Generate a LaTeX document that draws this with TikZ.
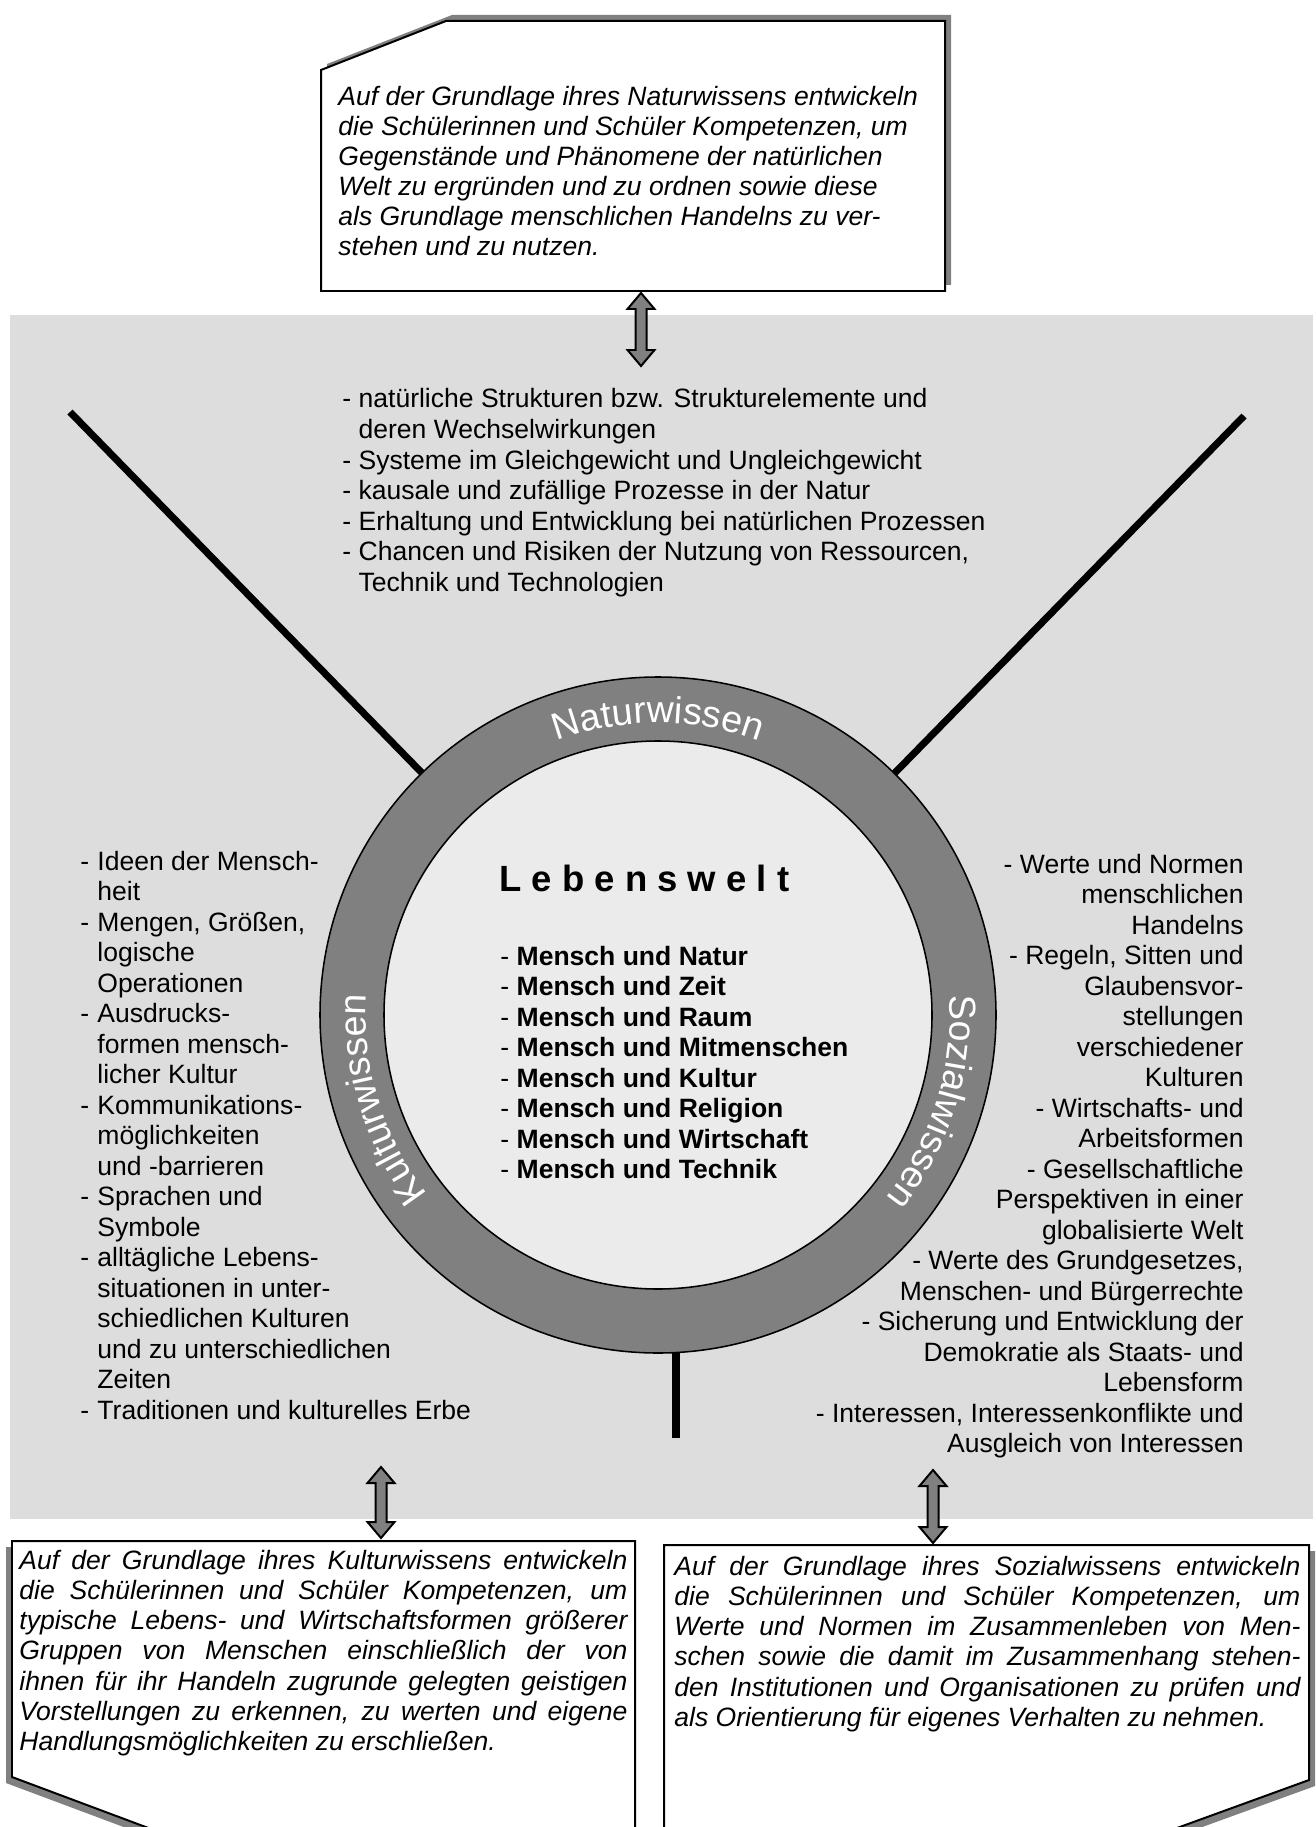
\documentclass[tikz,border=0pt]{standalone}
\usepackage{fontspec}
\setmainfont{Liberation Sans}
\usetikzlibrary{calc,decorations.text}
\definecolor{bggray}{HTML}{DDDDDD}
\definecolor{midgray}{HTML}{808080}
\definecolor{innergray}{HTML}{EBEBEB}
\newdimen\pxu \pxu=0.45231pt
\newcommand\jl[1]{\makebox[\linewidth][s]{#1}\\}
\newcommand\ind{\hspace*{17\pxu}}
\newcommand\itm{\makebox[17\pxu][l]{-}}
\newcommand\ringfont{\fontsize{17}{20}\selectfont}
\newcommand\blockarrow[2]{%
  \filldraw[arrowstyle] (#1) -- ($(#1)+(13.5,-16)$) -- ($(#1)+(5.5,-16)$) -- ($(#2)+(5.5,16)$) -- ($(#2)+(13.5,16)$) -- (#2) -- ($(#2)+(-13.5,16)$) -- ($(#2)+(-5.5,16)$) -- ($(#1)+(-5.5,-16)$) -- ($(#1)+(-13.5,-16)$) -- cycle;}
\begin{document}
\begin{tikzpicture}[x=0.45231pt,y=0.45231pt,
  spoke/.style={line width=3.2pt},
  boxline/.style={draw=black,line width=0.9pt,fill=white},
  arrowstyle/.style={fill=midgray,draw=black,line width=0.9pt,line join=miter},
  txt/.style={inner sep=0pt,anchor=base west},
  ringtext/.style={decorate,decoration={text along path,text align=center,text color=white,text={|\ringfont|#1}}}
]
\useasboundingbox (0,0) rectangle (1316,-1827);
\clip (0,0) rectangle (1316,-1827);
\fill[white] (0,0) rectangle (1316,-1827);
\fill[bggray] (10,-315) rectangle (1313,-1519);

% top box
\fill[midgray,shift={(6,6)}] (321,-70) -- (446,-21) -- (945,-21) -- (945,-291) -- (321,-291) -- cycle;
\draw[boxline] (321,-70) -- (446,-21) -- (945,-21) -- (945,-291) -- (321,-291) -- cycle;
% bottom-left box
\fill[midgray,shift={(-6,-6)}] (12,-1541) -- (635,-1541) -- (635,-1860) -- (234,-1860) -- (12,-1777) -- cycle;
\draw[boxline] (12,-1541) -- (635,-1541) -- (635,-1860) -- (234,-1860) -- (12,-1777) -- cycle;
% bottom-right box
\fill[midgray,shift={(6,-6)}] (664,-1545) -- (1309,-1545) -- (1309,-1780) -- (1089,-1860) -- (664,-1860) -- cycle;
\draw[boxline] (664,-1545) -- (1309,-1545) -- (1309,-1780) -- (1089,-1860) -- (664,-1860) -- cycle;

% spokes
\coordinate (c) at (658,-1015);
\coordinate (tl) at (70,-412);
\coordinate (tr) at (1244,-416);
\coordinate (bm) at (676,-1438);
\coordinate (bmi) at (676,-1300);
\draw[spoke] (tl) -- (c);
\draw[spoke] (tr) -- (c);
\draw[spoke] (bm) -- (bmi);

% ring
\node[circle,fill=midgray,draw=black,line width=0.7pt,minimum size=676\pxu,inner sep=0pt] (outer) at (c) {};
\node[circle,fill=innergray,draw=black,line width=0.7pt,minimum size=548\pxu,inner sep=0pt] (inner) at (c) {};
\path[ringtext=Naturwissen] ($(c)+(130:292)$) arc[start angle=130,end angle=50,radius=292];
\path[ringtext=Kulturwissen] ($(c)+(242:292)$) arc[start angle=242,end angle=152,radius=292];
\path[ringtext=Sozialwissen] ($(c)+(27.5:292)$) arc[start angle=27.5,end angle=-62.5,radius=292];

% centre
\node[txt] (lw) at (499,-891) {\fontsize{16.5}{20}\selectfont\bfseries L e b e n s w e l t};
\node[txt] (ml) at (500,-965) {\parbox[t]{420\pxu}{\fontsize{12}{13.8}\selectfont\raggedright
- \textbf{Mensch und Natur}\\
- \textbf{Mensch und Zeit}\\
- \textbf{Mensch und Raum}\\
- \textbf{Mensch und Mitmenschen}\\
- \textbf{Mensch und Kultur}\\
- \textbf{Mensch und Religion}\\
- \textbf{Mensch und Wirtschaft}\\
- \textbf{Mensch und Technik}}};

% top list
\node[txt] (nl) at (342,-408) {\parbox[t]{720\pxu}{\fontsize{12}{13.8}\selectfont\raggedright
- natürliche Strukturen bzw. Strukturelemente und\\
\hphantom{- }deren Wechselwirkungen\\
- Systeme im Gleichgewicht und Ungleichgewicht\\
- kausale und zufällige Prozesse in der Natur\\
- Erhaltung und Entwicklung bei natürlichen Prozessen\\
- Chancen und Risiken der Nutzung von Ressourcen,\\
\hphantom{- }Technik und Technologien}};

% left list
\node[txt] (kl) at (80,-870) {\parbox[t]{440\pxu}{\fontsize{12}{13.8}\selectfont\raggedright
\itm Ideen der Mensch-\\
\ind heit\\
\itm Mengen, Größen,\\
\ind logische\\
\ind Operationen\\
\itm Ausdrucks-\\
\ind formen mensch-\\
\ind licher Kultur\\
\itm Kommunikations-\\
\ind möglichkeiten\\
\ind und -barrieren\\
\itm Sprachen und\\
\ind Symbole\\
\itm alltägliche Lebens-\\
\ind situationen in unter-\\
\ind schiedlichen Kulturen\\
\ind und zu unterschiedlichen\\
\ind Zeiten\\
\itm Traditionen und kulturelles Erbe}};

% right list
\node[inner sep=0pt,anchor=base east] (sl) at (1244,-873) {\parbox[t]{480\pxu}{\fontsize{12}{13.8}\selectfont\raggedleft
- Werte und Normen\\
menschlichen\\
Handelns\\
- Regeln, Sitten und\\
Glaubensvor-\\
stellungen\\
verschiedener\\
Kulturen\\
- Wirtschafts- und\\
Arbeitsformen\\
- Gesellschaftliche\\
Perspektiven in einer\\
globalisierte Welt\\
- Werte des Grundgesetzes,\\
Menschen- und Bürgerrechte\\
- Sicherung und Entwicklung der\\
Demokratie als Staats- und\\
Lebensform\\
- Interessen, Interessenkonflikte und\\
Ausgleich von Interessen}};

% box texts
\node[txt] (nt) at (338,-106) {\parbox[t]{600\pxu}{\fontsize{12}{13.5}\selectfont\itshape\raggedright
Auf der Grundlage ihres Naturwissens entwickeln\\
die Schülerinnen und Schüler Kompetenzen, um\\
Gegenstände und Phänomene der natürlichen\\
Welt zu ergründen und zu ordnen sowie diese\\
als Grundlage menschlichen Handelns zu ver-\\
stehen und zu nutzen.}};

\node[txt] (kt) at (19,-1569) {\parbox[t]{608\pxu}{\fontsize{12}{13.7}\selectfont\itshape
\jl{Auf der Grundlage ihres Kulturwissens entwickeln}
\jl{die Schülerinnen und Schüler Kompetenzen, um}
\jl{typische Lebens- und Wirtschaftsformen größerer}
\jl{Gruppen von Menschen einschließlich der von}
\jl{ihnen für ihr Handeln zugrunde gelegten geistigen}
\jl{Vorstellungen zu erkennen, zu werten und eigene}
Handlungsmöglichkeiten zu erschließen.}};

\node[txt] (st) at (674,-1575) {\parbox[t]{626\pxu}{\fontsize{12}{13.7}\selectfont\itshape
\jl{Auf der Grundlage ihres Sozialwissens entwickeln}
\jl{die Schülerinnen und Schüler Kompetenzen, um}
\jl{Werte und Normen im Zusammenleben von Men-}
\jl{schen sowie die damit im Zusammenhang stehen-}
\jl{den Institutionen und Organisationen zu prüfen und}
als Orientierung für eigenes Verhalten zu nehmen.}};

% block arrows
\coordinate (a1t) at (641,-293);
\coordinate (a1b) at (641,-366);
\coordinate (a2t) at (381,-1467);
\coordinate (a2b) at (381,-1538);
\coordinate (a3t) at (933,-1470);
\coordinate (a3b) at (933,-1543);
\blockarrow{a1t}{a1b}
\blockarrow{a2t}{a2b}
\blockarrow{a3t}{a3b}
\end{tikzpicture}
\end{document}
